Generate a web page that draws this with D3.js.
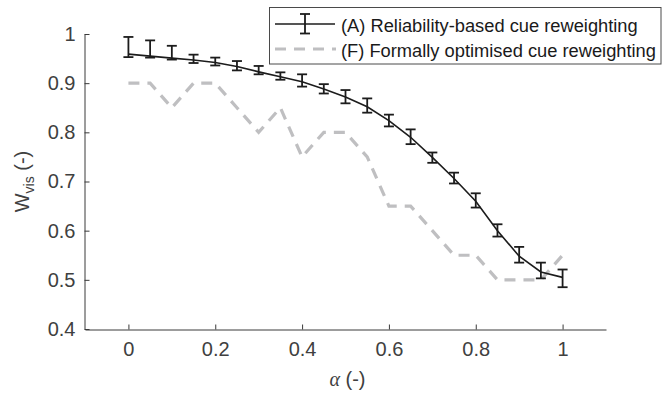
<!DOCTYPE html>
<html>
<head>
<meta charset="utf-8">
<script src="https://cdn.jsdelivr.net/npm/d3@7"></script>
<style>
  html, body { margin: 0; padding: 0; background: #fff; }
  svg { display: block; font-family: "Liberation Sans", Arial, Helvetica, sans-serif; }
</style>
</head>
<body>
<svg id="chart" width="662" height="393"></svg>
<script>
// ---- data ----
const alpha = [0, 0.05, 0.1, 0.15, 0.2, 0.25, 0.3, 0.35, 0.4, 0.45, 0.5, 0.55, 0.6, 0.65, 0.7, 0.75, 0.8, 0.85, 0.9, 0.95, 1];
const relMean  = [0.959, 0.955, 0.951, 0.947, 0.942, 0.934, 0.923, 0.913, 0.903, 0.888, 0.872, 0.852, 0.824, 0.790, 0.749, 0.706, 0.660, 0.600, 0.548, 0.516, 0.505];
const relUpper = [0.994, 0.987, 0.976, 0.958, 0.952, 0.945, 0.935, 0.922, 0.918, 0.898, 0.886, 0.869, 0.836, 0.806, 0.759, 0.718, 0.676, 0.613, 0.567, 0.535, 0.521];
const relLower = [0.953, 0.952, 0.948, 0.941, 0.936, 0.926, 0.918, 0.907, 0.893, 0.879, 0.859, 0.840, 0.812, 0.776, 0.738, 0.696, 0.647, 0.588, 0.535, 0.503, 0.485];
const optValues = [0.9, 0.9, 0.85, 0.9, 0.9, 0.85, 0.8, 0.85, 0.75, 0.8, 0.8, 0.75, 0.65, 0.65, 0.6, 0.55, 0.55, 0.5, 0.5, 0.5, 0.55];
const xTicks = [0, 0.2, 0.4, 0.6, 0.8, 1];
const xTickLabels = ["0", "0.2", "0.4", "0.6", "0.8", "1"];
const yTicks = [0.4, 0.5, 0.6, 0.7, 0.8, 0.9, 1];
const yTickLabels = ["0.4", "0.5", "0.6", "0.7", "0.8", "0.9", "1"];
const seriesNames = ["(A) Reliability-based cue reweighting", "(F) Formally optimised cue reweighting"];

(function () {
// ---- layout ----
const svg = d3.select("#chart");
const mLeft = 85, mRight = 606, mTop = 34, mBottom = 329;
const axisColor = "#3a3a3a", textColor = "#404040";
const blackLine = "#1c1c1c", grayLine = "#bfbfc1";

const x = d3.scaleLinear().domain([-0.1, 1.1]).range([mLeft, mRight]);
const y = d3.scaleLinear().domain([0.4, 1]).range([mBottom, mTop]);

// axes (ticks inward, MATLAB style)
const xAxis = d3.axisBottom(x).tickValues(xTicks).tickFormat((d, i) => xTickLabels[i])
  .tickSizeInner(-5).tickSizeOuter(0).tickPadding(12);
const yAxis = d3.axisLeft(y).tickValues(yTicks).tickFormat((d, i) => yTickLabels[i])
  .tickSizeInner(-5).tickSizeOuter(0).tickPadding(9);

const gx = svg.append("g").attr("transform", `translate(0,${mBottom + 0.5})`).call(xAxis);
const gy = svg.append("g").attr("transform", `translate(${mLeft - 0.5},0)`).call(yAxis);
[gx, gy].forEach(g => {
  g.select(".domain").attr("stroke", axisColor).attr("stroke-width", 1);
  g.selectAll(".tick line").attr("stroke", axisColor).attr("stroke-width", 1);
  g.selectAll(".tick text").attr("fill", textColor).attr("font-size", 20)
    .attr("font-family", "'Liberation Sans', Arial, sans-serif");
});

// axis labels
const xl = svg.append("text").attr("x", (mLeft + mRight) / 2 + 2).attr("y", 386)
  .attr("text-anchor", "middle").attr("fill", textColor).attr("font-size", 20);
xl.append("tspan").attr("font-family", "'Liberation Serif', 'DejaVu Serif', serif").attr("font-style", "italic").text("α");
xl.append("tspan").text(" (-)");

const yl = svg.append("text").attr("transform", `translate(28.5,${(mTop + mBottom) / 2}) rotate(-90)`)
  .attr("text-anchor", "middle").attr("fill", textColor).attr("font-size", 20);
yl.append("tspan").text("W");
yl.append("tspan").attr("font-size", 14).attr("dy", 5).text("vis");
yl.append("tspan").attr("dy", -5).text(" (-)");

// gray dashed series
const line = d3.line().x((d, i) => x(alpha[i])).y(d => y(d));
svg.append("path").datum(optValues).attr("d", line)
  .attr("fill", "none").attr("stroke", grayLine).attr("stroke-width", 3.2)
  .attr("stroke-dasharray", "11,8");

// black series with error bars
svg.append("path").datum(relMean).attr("d", line)
  .attr("fill", "none").attr("stroke", blackLine).attr("stroke-width", 1.6);

const capW = 5;
const eb = svg.append("g").attr("stroke", blackLine).attr("stroke-width", 1.8).attr("fill", "none");
alpha.forEach((a, i) => {
  const cx = x(a), y1 = y(relUpper[i]), y2 = y(relLower[i]);
  eb.append("line").attr("x1", cx).attr("x2", cx).attr("y1", y1).attr("y2", y2);
  eb.append("line").attr("x1", cx - capW).attr("x2", cx + capW).attr("y1", y1).attr("y2", y1);
  eb.append("line").attr("x1", cx - capW).attr("x2", cx + capW).attr("y1", y2).attr("y2", y2);
});

// legend
const lg = svg.append("g");
lg.append("rect").attr("x", 269.5).attr("y", 7.5).attr("width", 391.5).attr("height", 56.5)
  .attr("fill", "#fff").attr("stroke", "#4a4a4a").attr("stroke-width", 1);
const ly1 = 24, ly2 = 49;
lg.append("line").attr("x1", 275).attr("x2", 335).attr("y1", ly1).attr("y2", ly1)
  .attr("stroke", blackLine).attr("stroke-width", 1.6);
lg.append("line").attr("x1", 305).attr("x2", 305).attr("y1", 14).attr("y2", 33.5)
  .attr("stroke", blackLine).attr("stroke-width", 1.8);
lg.append("line").attr("x1", 300).attr("x2", 310).attr("y1", 14).attr("y2", 14)
  .attr("stroke", blackLine).attr("stroke-width", 1.8);
lg.append("line").attr("x1", 300).attr("x2", 310).attr("y1", 33.5).attr("y2", 33.5)
  .attr("stroke", blackLine).attr("stroke-width", 1.8);
lg.append("line").attr("x1", 275).attr("x2", 336).attr("y1", ly2).attr("y2", ly2)
  .attr("stroke", grayLine).attr("stroke-width", 3.2).attr("stroke-dasharray", "11,8");
lg.selectAll("text.leg").data(seriesNames).join("text").attr("class", "leg")
  .attr("x", 341).attr("y", (d, i) => i === 0 ? 31.5 : 56.5)
  .attr("fill", "#1a1a1a").attr("font-size", 18.3).text(d => d);
})();
</script>
</body>
</html>
